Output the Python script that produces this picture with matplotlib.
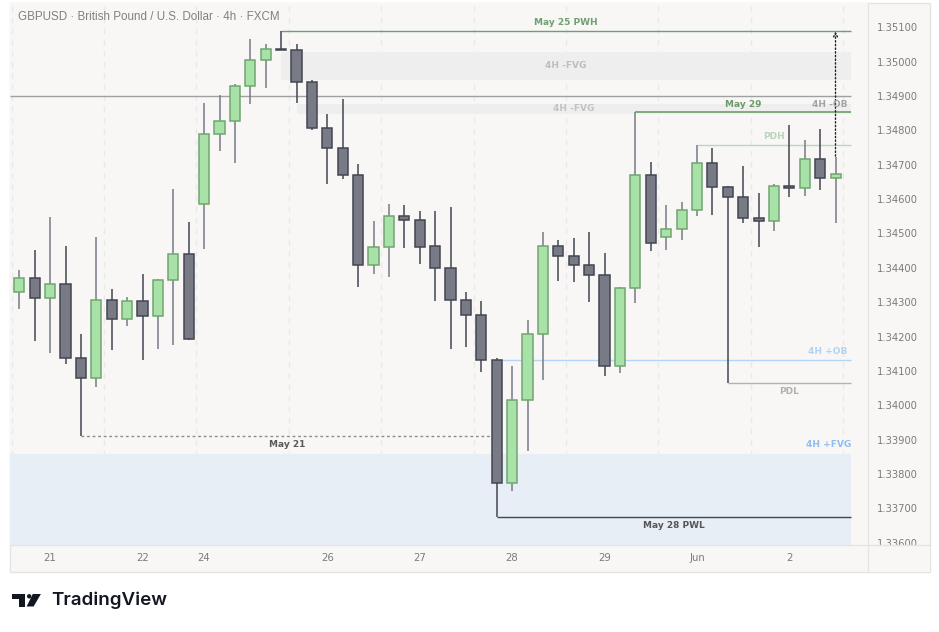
import matplotlib
matplotlib.use("Agg")
import matplotlib.pyplot as plt
from matplotlib import patches, transforms
from matplotlib.lines import Line2D

# GBPUSD 4h candles
opens = [1.34329, 1.34369, 1.34311, 1.34352, 1.34137, 1.34078, 1.34305, 1.34250, 1.34302, 1.34259,
         1.34364, 1.34439, 1.34585, 1.34789, 1.34826, 1.34928, 1.35004, 1.35036, 1.35033, 1.34940,
         1.34806, 1.34748, 1.34669, 1.34409, 1.34460, 1.34550, 1.34538, 1.34463, 1.34399, 1.34305,
         1.34262, 1.34131, 1.33773, 1.34014, 1.34206, 1.34463, 1.34434, 1.34407, 1.34378, 1.34114,
         1.34340, 1.34669, 1.34489, 1.34512, 1.34567, 1.34704, 1.34634, 1.34605, 1.34544, 1.34535,
         1.34637, 1.34631, 1.34716, 1.34661]
highs = [1.34394, 1.34452, 1.34548, 1.34463, 1.34207, 1.34490, 1.34338, 1.34315, 1.34382, 1.34367,
         1.34629, 1.34533, 1.34880, 1.34903, 1.34935, 1.35065, 1.35051, 1.35088, 1.35051, 1.34947,
         1.34848, 1.34891, 1.34702, 1.34536, 1.34586, 1.34582, 1.34565, 1.34565, 1.34576, 1.34329,
         1.34302, 1.34137, 1.34114, 1.34248, 1.34504, 1.34481, 1.34487, 1.34504, 1.34443, 1.34343,
         1.34853, 1.34708, 1.34583, 1.34592, 1.34757, 1.34748, 1.34637, 1.34695, 1.34617, 1.34643,
         1.34815, 1.34771, 1.34803, 1.34722]
lows = [1.34281, 1.34188, 1.34153, 1.34119, 1.33910, 1.34054, 1.34162, 1.34231, 1.34132, 1.34165,
        1.34176, 1.34190, 1.34456, 1.34741, 1.34706, 1.34876, 1.34924, 1.35033, 1.34879, 1.34800,
        1.34645, 1.34659, 1.34345, 1.34383, 1.34374, 1.34459, 1.34412, 1.34304, 1.34163, 1.34170,
        1.34098, 1.33674, 1.33751, 1.33868, 1.34074, 1.34362, 1.34360, 1.34301, 1.34084, 1.34093,
        1.34297, 1.34450, 1.34453, 1.34482, 1.34552, 1.34555, 1.34064, 1.34531, 1.34460, 1.34508,
        1.34607, 1.34608, 1.34626, 1.34531]
closes = [1.34369, 1.34311, 1.34352, 1.34137, 1.34078, 1.34305, 1.34250, 1.34302, 1.34259, 1.34364,
          1.34439, 1.34192, 1.34789, 1.34826, 1.34928, 1.35004, 1.35036, 1.35034, 1.34940, 1.34806,
          1.34748, 1.34669, 1.34409, 1.34460, 1.34550, 1.34538, 1.34461, 1.34399, 1.34305, 1.34262,
          1.34131, 1.33773, 1.34014, 1.34206, 1.34463, 1.34434, 1.34407, 1.34378, 1.34114, 1.34340,
          1.34669, 1.34471, 1.34512, 1.34567, 1.34704, 1.34634, 1.34605, 1.34544, 1.34535, 1.34637,
          1.34631, 1.34716, 1.34661, 1.34672]

day_ticks = [2, 8, 12, 20, 26, 32, 38, 44, 50]
day_labels = ["21", "22", "24", "26", "27", "28", "29", "Jun", "2"]
price_ticks = [1.336, 1.337, 1.338, 1.339, 1.340, 1.341, 1.342, 1.343,
               1.344, 1.345, 1.346, 1.347, 1.348, 1.349, 1.350, 1.351]

# levels: (price, first candle)
pwh = (1.35088, 17)
may29 = (1.34853, 40)
pdh = (1.34757, 44)
ob_line = 1.34899
bull_ob = (1.34131, 31)
pdl = (1.34064, 46)
may21 = (1.33910, 4, 31)
pwl = (1.33674, 31)
fvg_bear1 = (1.34947, 1.35028, 17)
fvg_bear2 = (1.34849, 1.34877, 18)
fvg_bull = (1.33593, 1.33858)
right_end = 54

BG = "#f8f7f6"
W, H = 939, 632

fig = plt.figure(figsize=(W / 100, H / 100), dpi=100)
fig.patch.set_facecolor("white")
pix = transforms.Affine2D().scale(1 / W, -1 / H).translate(0, 1) + fig.transFigure

fig.add_artist(patches.Rectangle((10, 3), 920, 569, transform=pix, facecolor=BG,
                                 edgecolor="#e4e4e4", linewidth=1, zorder=-1))

ax = fig.add_axes([10 / W, 1 - 545 / H, 858 / W, 542 / H])
ax.set_facecolor(BG)
x0, x1 = -0.604, 55.11
ax.set_xlim(x0, x1)
ax.set_ylim(1.335932, 1.351707)
for s in ax.spines.values():
    s.set_visible(False)

# vertical grid
for g in range(10):
    ax.axvline(-0.5 + 6 * g, color="#e9e9e9", lw=1, ls=(0, (4, 4)), zorder=0)

# zones
ax.fill_between([fvg_bear1[2], right_end], fvg_bear1[0], fvg_bear1[1], color="#eeeeee", lw=0, zorder=1)
ax.fill_between([fvg_bear2[2], right_end], fvg_bear2[0], fvg_bear2[1], color="#eeeeee", lw=0, zorder=1)
ax.fill_between([x0, right_end], fvg_bull[0], fvg_bull[1], color="#e8eef6", lw=0, zorder=1)

# level lines
ax.hlines(pwh[0], pwh[1], right_end, color="#6f9f6f", lw=1, zorder=2)
ax.hlines(ob_line, x0, right_end, color="#a0a0a0", lw=1, zorder=2)
ax.hlines(may29[0], may29[1], right_end, color="#5e9a5e", lw=1.1, zorder=2)
ax.hlines(pdh[0], pdh[1], right_end, color="#bcd6bc", lw=1, zorder=2)
ax.hlines(bull_ob[0], bull_ob[1], right_end, color="#b3d5f7", lw=1, zorder=2)
ax.hlines(pdl[0], pdl[1], right_end, color="#b2b2b2", lw=1, zorder=2)
ax.hlines(may21[0], may21[1], may21[2], color="#8c8c8c", lw=1, ls=(0, (2, 2)), zorder=2)
ax.hlines(pwl[0], pwl[1], right_end, color="#434651", lw=1, zorder=2)

# candles
for i, (o, h, l, c) in enumerate(zip(opens, highs, lows, closes)):
    up = c >= o
    fill = "#a9e2a8" if up else "#787b86"
    edge = "#6fa66f" if up else "#434651"
    wick = "#787b86" if up else "#434651"
    ax.vlines(i, l, h, color=wick, lw=1.1, zorder=3)
    ax.bar(i, max(abs(c - o), 0.00002), bottom=min(o, c), width=0.65,
           color=fill, edgecolor=edge, linewidth=1.1, zorder=4)

# dotted target arrow from last candle to PWH
last = len(closes) - 1
ax.annotate("", xy=(last, pwh[0]), xytext=(last, highs[last] + 0.00003),
            arrowprops=dict(arrowstyle="->", ls=":", lw=1, color="#222222",
                            mutation_scale=7, shrinkA=0, shrinkB=0), zorder=5)

# labels
lab = dict(fontsize=6.5, fontweight="bold", zorder=6, textcoords="offset points")
ax.annotate("May 25 PWH", (35.5, pwh[0]), xytext=(0, 6.2), ha="center", va="center", color="#6f9f6f", **lab)
ax.annotate("4H -FVG", (35.5, sum(fvg_bear1[:2]) / 2), xytext=(0, 0), ha="center", va="center", color="#bdbdbd", **lab)
ax.annotate("4H -FVG", (36, sum(fvg_bear2[:2]) / 2), xytext=(0, 0), ha="center", va="center", color="#c2c2c2", **lab)
ax.annotate("May 29", (47.0, may29[0]), xytext=(0, 5.8), ha="center", va="center", color="#6a9a6a", **lab)
ax.annotate("4H -OB", (53.8, ob_line), xytext=(0, -5.8), ha="right", va="center", color="#a3a3a3", **lab)
ax.annotate("PDH", (49.0, pdh[0]), xytext=(0, 6.2), ha="center", va="center", color="#b8d5b8", **lab)
ax.annotate("4H +OB", (53.8, bull_ob[0]), xytext=(0, 6.2), ha="right", va="center", color="#b0d3f5", **lab)
ax.annotate("PDL", (50.0, pdl[0]), xytext=(0, -6.1), ha="center", va="center", color="#b0b0b0", **lab)
ax.annotate("May 21", (17.4, may21[0]), xytext=(0, -6.1), ha="center", va="center", color="#5a5a5a", **lab)
ax.annotate("4H +FVG", (54.0, fvg_bull[1]), xytext=(0, 7.2), ha="right", va="center", color="#8fbdf0", **lab)
ax.annotate("May 28 PWL", (42.5, pwl[0]), xytext=(0, -6.1), ha="center", va="center", color="#555555", **lab)

# axes ticks
ax.yaxis.tick_right()
ax.set_yticks(price_ticks, [f"{p:.5f}" for p in price_ticks])
ax.tick_params(axis="y", length=0, pad=6.3, labelsize=7.2, labelcolor="#7b7b7b")
ax.set_xticks(day_ticks, day_labels)
ax.tick_params(axis="x", length=0, pad=5.5, labelsize=7.3, labelcolor="#7b7b7b")

# price/time scale separators, and cover clipping the lowest price label
fig.add_artist(patches.Rectangle((868.5, 545.5), 61, 26, transform=pix, facecolor=BG,
                                 edgecolor="none", zorder=5))
fig.add_artist(Line2D([868, 868], [3, 572], transform=pix, color="#e4e4e4", lw=1, zorder=6))
fig.add_artist(Line2D([10, 930], [545, 545], transform=pix, color="#e4e4e4", lw=1, zorder=6))

fig.text(18 / W, 1 - 16.7 / H, "GBPUSD \u00b7 British Pound / U.S. Dollar \u00b7 4h \u00b7 FXCM",
         ha="left", va="center", fontsize=8.4, color="#808080", family="Liberation Sans")

# TradingView logo
ink = "#131722"
fig.add_artist(patches.Polygon([(12.3, 594), (25, 594), (25, 606.5), (19, 606.5), (19, 598.5), (12.3, 598.5)],
                               closed=True, transform=pix, facecolor=ink, edgecolor="none"))
fig.add_artist(patches.Circle((29.2, 596.3), 2.2, transform=pix, facecolor=ink, edgecolor="none"))
fig.add_artist(patches.Polygon([(32.8, 594), (40.9, 594), (33.6, 606.5), (26.6, 606.5)],
                               closed=True, transform=pix, facecolor=ink, edgecolor="none"))
fig.text(51.5 / W, 1 - 600.5 / H, "TradingView", ha="left", va="center", fontsize=13.5,
         fontweight="semibold", color=ink, family="Inter")

fig.savefig("out.png", dpi=100, facecolor="white")
